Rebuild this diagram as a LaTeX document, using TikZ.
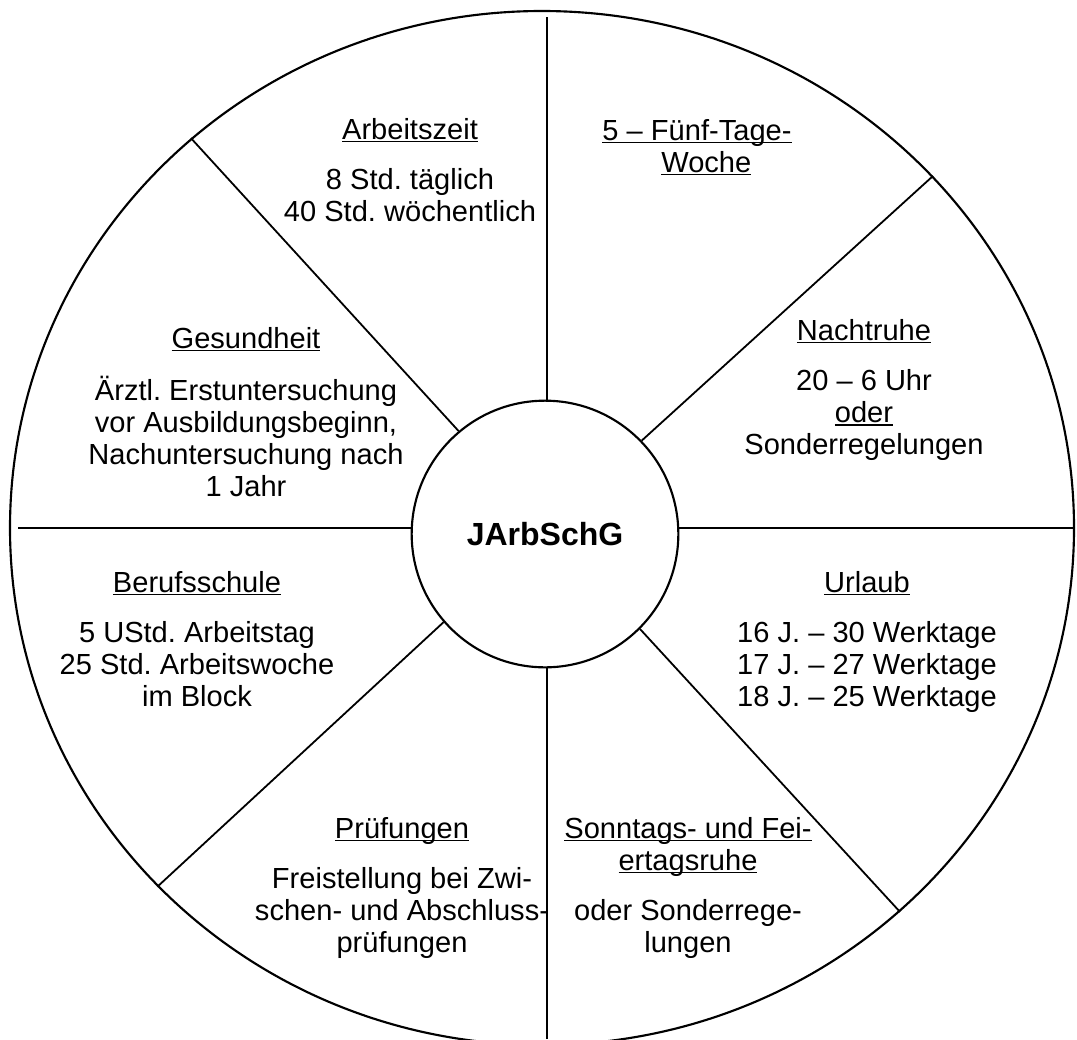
\documentclass[tikz,border=0pt]{standalone}
\usepackage{fontspec}
\setmainfont{Liberation Sans}
\usetikzlibrary{shapes.geometric}
\frenchspacing
\newcommand\ulx[1]{\setbox0\hbox{#1}\leavevmode\rlap{\rule[-2.6pt]{\wd0}{1.4pt}}\box0}
\newcommand\gap{\\[14pt]}
\begin{document}
\begin{tikzpicture}[x=0.75pt,y=-0.75pt,
  sep/.style={line width=1.35pt},
  rim/.style={line width=1.6pt},
  blk/.style={anchor=base,inner sep=0pt,font=\fontsize{21.8pt}{24pt}\selectfont\frenchspacing},
  hubstyle/.style={draw,circle,rim,inner sep=0pt,minimum size=200pt,font=\fontsize{24pt}{28pt}\selectfont\bfseries}]
\useasboundingbox (0,0) rectangle (1077,1039);
\node[draw,rim,ellipse,inner sep=0pt,minimum width=798pt,minimum height=775.5pt] (outer) at (542,528) {};
\node[hubstyle] (hub) at (545,534) {JArbSchG};
\coordinate (tEnd) at (547,17);
\coordinate (bEnd) at (547,1039);
\coordinate (lEnd) at (18,528);
\coordinate (rEnd) at (1074,528);
\draw[sep] (tEnd) -- (tEnd |- hub.north);
\draw[sep] (bEnd) -- (bEnd |- hub.south);
\draw[sep] (lEnd) -- (lEnd -| hub.west);
\draw[sep] (rEnd) -- (rEnd -| hub.east);
\draw[sep] (outer.132.8) -- (hub.130.5);
\draw[sep] (outer.42.9) -- (hub.44.7);
\draw[sep] (outer.223.4) -- (hub.221.9);
\draw[sep] (outer.313.4) -- (hub.315.6);
\node[blk] (arbeit) at (410,139) {\begin{tabular}[t]{@{}c@{}}\ulx{Arbeitszeit}\gap 8 Std. täglich\\ 40 Std. wöchentlich\end{tabular}};
\node[blk] (fuenf) at (697,140) {\begin{tabular}[t]{@{}c@{}}\ulx{5 – Fünf-Tage-}\\ \hspace*{14pt}\ulx{Woche}\end{tabular}};
\node[blk] (gesund) at (246,348) {\begin{tabular}[t]{@{}c@{}}\ulx{Gesundheit}\gap Ärztl. Erstuntersuchung\\ vor Ausbildungsbeginn,\\ Nachuntersuchung nach\\ 1 Jahr\end{tabular}};
\node[blk] (nacht) at (864,340) {\begin{tabular}[t]{@{}c@{}}\ulx{Nachtruhe}\gap 20 – 6 Uhr\\ \ulx{oder}\\ Sonderregelungen\end{tabular}};
\node[blk] (beruf) at (197,592) {\begin{tabular}[t]{@{}c@{}}\ulx{Berufsschule}\gap 5 UStd. Arbeitstag\\ 25 Std. Arbeitswoche\\ im Block\end{tabular}};
\node[blk] (urlaub) at (867,592) {\begin{tabular}[t]{@{}c@{}}\ulx{Urlaub}\gap 16 J. – 30 Werktage\\ 17 J. – 27 Werktage\\ 18 J. – 25 Werktage\end{tabular}};
\node[blk] (pruef) at (402,838) {\begin{tabular}[t]{@{}c@{}}\ulx{Prüfungen}\gap Freistellung bei Zwi-\\ schen- und Abschluss-\\ prüfungen\end{tabular}};
\node[blk] (sonn) at (688,838) {\begin{tabular}[t]{@{}c@{}}\ulx{Sonntags- und Fei-}\\ \ulx{ertagsruhe}\gap oder Sonderrege-\\ lungen\end{tabular}};
\end{tikzpicture}
\end{document}
